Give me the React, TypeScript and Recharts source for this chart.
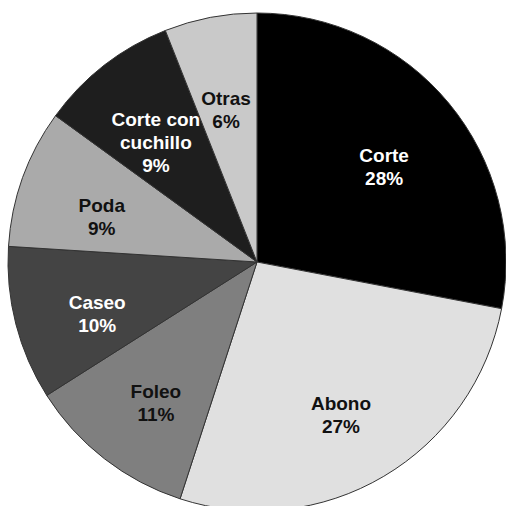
import React from 'react';
import { PieChart, Pie, Cell } from 'recharts';

const categories = ['Corte', 'Abono', 'Foleo', 'Caseo', 'Poda', 'Corte con\ncuchillo', 'Otras'];
const shares = [28, 27, 11, 10, 9, 9, 6];
const fills = ['#000000', '#e0e0e0', '#7f7f7f', '#444444', '#aaaaaa', '#1e1e1e', '#c9c9c9'];
const textColors = ['#ffffff', '#111111', '#111111', '#ffffff', '#111111', '#ffffff', '#111111'];

const data = categories.map((name, i) => ({ name, value: shares[i] }));

const RADIAN = Math.PI / 180;

const renderLabel = (props: any) => {
  const { cx, cy, midAngle, index, name, value } = props;
  const r = 165;
  const x = cx + r * Math.cos(-midAngle * RADIAN);
  const y = cy + r * Math.sin(-midAngle * RADIAN) + 10;
  const lines = [...String(name).split('\n'), `${value}%`];
  const lh = 23;
  const startY = y - ((lines.length - 1) * lh) / 2;
  return (
    <text
      x={x}
      y={startY}
      fill={textColors[index]}
      textAnchor="middle"
      dominantBaseline="central"
      fontFamily="'Liberation Sans', Arial, sans-serif"
      fontWeight="bold"
      fontSize={19}
    >
      {lines.map((line, i) => (
        <tspan key={i} x={x} y={startY + i * lh}>
          {line}
        </tspan>
      ))}
    </text>
  );
};

const App: React.FC = () => {
  return (
    <div style={{ position: 'absolute', left: 0, top: 0, width: 506, height: 506, background: '#fff' }}>
      <PieChart width={506} height={506} margin={{ top: 0, right: 0, bottom: 0, left: 0 }}>
        <Pie
          data={data}
          dataKey="value"
          nameKey="name"
          cx={257}
          cy={262}
          outerRadius={249}
          startAngle={90}
          endAngle={-270}
          stroke="#333333"
          strokeWidth={1}
          label={renderLabel}
          labelLine={false}
          isAnimationActive={false}
        >
          {data.map((d, i) => (
            <Cell key={d.name} fill={fills[i]} />
          ))}
        </Pie>
      </PieChart>
    </div>
  );
};

export default App;
